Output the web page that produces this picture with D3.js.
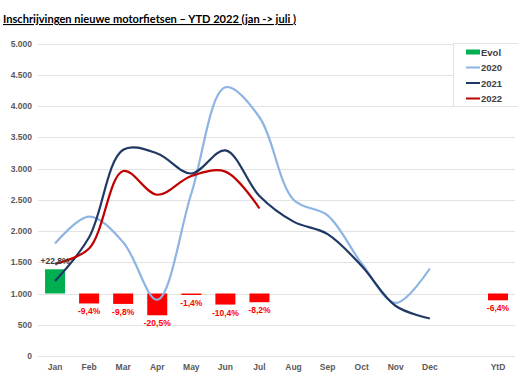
<!DOCTYPE html>
<html>
<head>
<meta charset="utf-8">
<script src="https://cdn.jsdelivr.net/npm/d3@7"></script>
<style>
  body { margin: 0; background: #fff; }
  text { font-family: "Liberation Sans", Arial, sans-serif; }
</style>
</head>
<body>
<div id="holder"></div>
<script>
// data
var months = ["Jan", "Feb", "Mar", "Apr", "May", "Jun", "Jul", "Aug", "Sep", "Oct", "Nov", "Dec", "", "YtD"];
var y2020 = [1800, 2230, 1820, 900, 2600, 4300, 3820, 2500, 2250, 1480, 850, 1400];
var y2021 = [1200, 1900, 3300, 3240, 2920, 3290, 2560, 2150, 1950, 1440, 800, 600];
var y2022 = [1475, 1720, 2960, 2580, 2880, 2950, 2360];
var evolCats = ["Jan", "Feb", "Mar", "Apr", "May", "Jun", "Jul", "YtD"];
var evol = [22.8, -9.4, -9.8, -20.5, -1.4, -10.4, -8.2, -6.4];
var yTicks = [0, 500, 1000, 1500, 2000, 2500, 3000, 3500, 4000, 4500, 5000];

var width = 518, height = 375;
var margin = {top: 43.5, right: 3, bottom: 19, left: 38};

var svg = d3.select("#holder")
  .append("svg")
  .attr("width", width)
  .attr("height", height);

// title
svg.append("text")
  .attr("x", 3)
  .attr("y", 23)
  .style("font-family", "Lato, sans-serif")
  .style("font-size", "11.1px")
  .style("font-weight", "bold")
  .attr("text-decoration", "underline")
  .attr("fill", "#000")
  .text("Inschrijvingen nieuwe motorfietsen \u2013 YTD 2022 (jan -> juli )");

var x = d3.scaleBand()
  .domain(months.map(function(d, i) { return i; }))
  .range([margin.left, width - margin.right]);

var y = d3.scaleLinear()
  .domain([0, 5000])
  .range([height - margin.bottom, margin.top]);

// evol bars sit on the 1.000 line, 1% ~ 17 units
var evolY = d3.scaleLinear()
  .domain([0, 1])
  .range([y(1000), y(1017)]);

var cx = function(i) { return x(i) + x.bandwidth() / 2; };

// gridlines
svg.append("g")
  .selectAll("line")
  .data(yTicks)
  .enter()
  .append("line")
  .attr("x1", margin.left)
  .attr("x2", width - margin.right)
  .attr("y1", function(d) { return Math.round(y(d)) + 0.5; })
  .attr("y2", function(d) { return Math.round(y(d)) + 0.5; })
  .attr("stroke", "#e3e3e3")
  .attr("stroke-width", 1);

// y axis labels
var yAxis = d3.axisLeft(y)
  .tickValues(yTicks)
  .tickSize(0)
  .tickPadding(6)
  .tickFormat(function(d) { return d3.format(",")(d).replace(",", "."); });

svg.append("g")
  .attr("transform", "translate(" + margin.left + ",0)")
  .call(yAxis)
  .call(function(g) { g.select(".domain").remove(); })
  .selectAll("text")
  .attr("font-size", "8.5px")
  .attr("font-weight", "bold")
  .attr("fill", "#595959");

// x axis labels
var xAxis = d3.axisBottom(x)
  .tickSize(0)
  .tickPadding(8)
  .tickFormat(function(d) { return months[d]; });

svg.append("g")
  .attr("transform", "translate(0," + y(0) + ")")
  .call(xAxis)
  .call(function(g) { g.select(".domain").remove(); })
  .selectAll("text")
  .attr("font-size", "8.5px")
  .attr("font-weight", "bold")
  .attr("fill", "#595959");

// evol bars
var barW = 20;
var evolData = evol.map(function(v, i) { return {cat: months.indexOf(evolCats[i]), v: v}; });

svg.append("g")
  .selectAll("rect")
  .data(evolData)
  .enter()
  .append("rect")
  .attr("x", function(d) { return cx(d.cat) - barW / 2; })
  .attr("width", barW)
  .attr("y", function(d) { return Math.min(evolY(d.v), evolY(0)); })
  .attr("height", function(d) { return Math.abs(evolY(d.v) - evolY(0)); })
  .attr("fill", function(d) { return d.v >= 0 ? "#00b050" : "#ff0000"; });

// lines
var line = d3.line()
  .x(function(d, i) { return cx(i); })
  .y(function(d) { return y(d); })
  .curve(d3.curveCatmullRom.alpha(0.5));

var series = [
  {name: "2020", values: y2020, color: "#8db4e2"},
  {name: "2021", values: y2021, color: "#1f3864"},
  {name: "2022", values: y2022, color: "#c00000"}
];

svg.append("g")
  .selectAll("path")
  .data(series)
  .enter()
  .append("path")
  .attr("d", function(d) { return line(d.values); })
  .attr("fill", "none")
  .attr("stroke", function(d) { return d.color; })
  .attr("stroke-width", 2.2);

// evol labels
svg.append("g")
  .selectAll("text")
  .data(evolData)
  .enter()
  .append("text")
  .attr("x", function(d) { return cx(d.cat); })
  .attr("y", function(d) { return d.v >= 0 ? evolY(d.v) - 5 : evolY(d.v) + 11; })
  .attr("text-anchor", "middle")
  .attr("font-size", "8.5px")
  .attr("font-weight", "bold")
  .attr("fill", function(d) { return d.v >= 0 ? "#404040" : "#ff0000"; })
  .text(function(d) {
    var s = d3.format(".1f")(Math.abs(d.v)).replace(".", ",") + "%";
    return (d.v >= 0 ? "+" : "-") + s;
  });

// legend
var legend = svg.append("g").attr("transform", "translate(453,43)");
legend.append("rect")
  .attr("x", 0.5).attr("y", 0.5)
  .attr("width", 70).attr("height", 63)
  .attr("fill", "#fff")
  .attr("stroke", "#e3e3e3");

var legendItems = [{name: "Evol", color: "#00b050", bar: true}].concat(series);
var li = legend.selectAll(".li")
  .data(legendItems)
  .enter()
  .append("g")
  .attr("transform", function(d, i) { return "translate(13," + (9 + i * 15.5) + ")"; });

li.append("rect")
  .attr("x", 0)
  .attr("y", function(d) { return d.bar ? -2.5 : -1; })
  .attr("width", 14)
  .attr("height", function(d) { return d.bar ? 5 : 2; })
  .attr("fill", function(d) { return d.color; });

li.append("text")
  .attr("x", 15)
  .attr("y", 3.5)
  .attr("font-size", "9.5px")
  .attr("font-weight", "bold")
  .attr("fill", "#404040")
  .text(function(d) { return d.name; });
</script>
</body>
</html>
